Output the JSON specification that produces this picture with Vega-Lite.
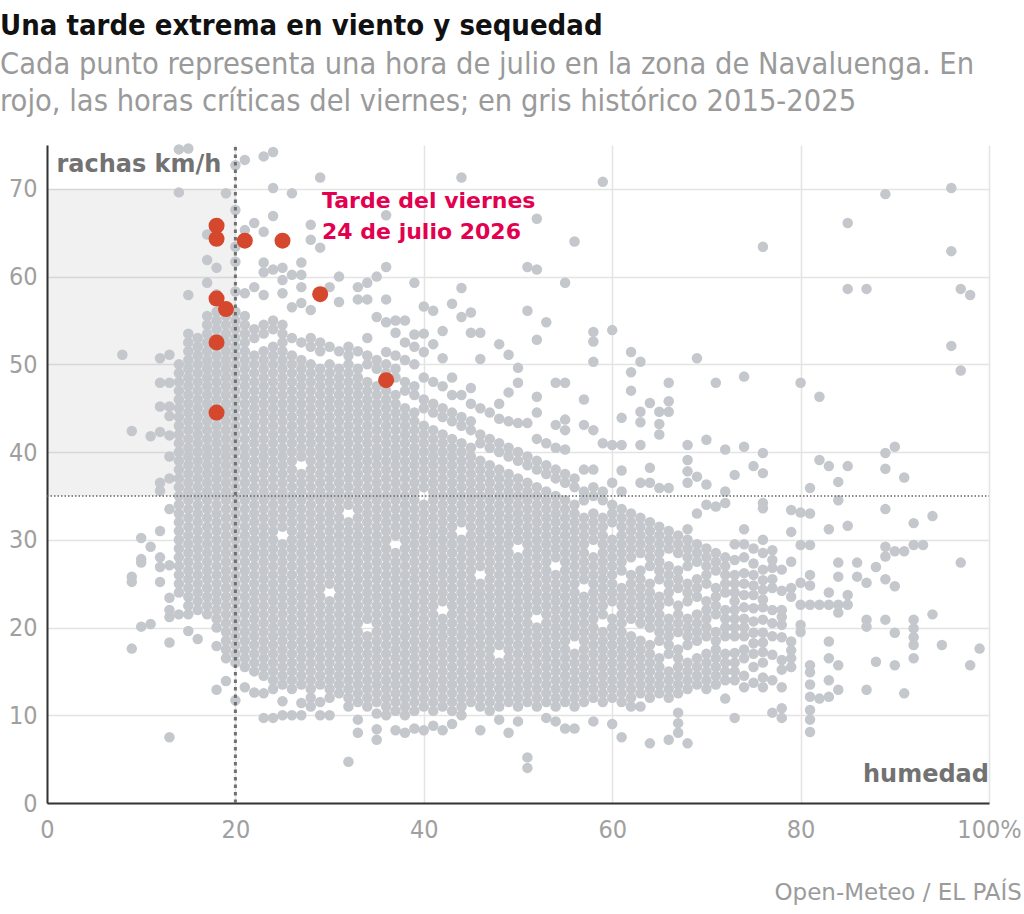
{
  "$schema": "https://vega.github.io/schema/vega-lite/v6.json",
  "width": 942,
  "height": 658,
  "autosize": {"type": "none"},
  "padding": {"left": 47, "top": 145, "right": 35, "bottom": 111},
  "background": "white",
  "config": {
    "view": {"stroke": null},
    "axis": {
      "grid": true, "gridColor": "#e4e4e4", "gridWidth": 1.5,
      "domainColor": "#333333", "domainWidth": 2,
      "ticks": false, "labelFlush": false,
      "labelFont": "DejaVu Sans Condensed", "labelFontSize": 25, "labelColor": "#a0a0a0"
    },
    "axisX": {"labelPadding": 14},
    "axisY": {"labelPadding": 10}
  },
  "title": {
    "text": "Una tarde extrema en viento y sequedad",
    "subtitle": ["Cada punto representa una hora de julio en la zona de Navaluenga. En", "rojo, las horas críticas del viernes; en gris histórico 2015-2025"],
    "anchor": "start",
    "frame": "group",
    "dx": -47,
    "offset": 26,
    "font": "DejaVu Sans Condensed",
    "fontSize": 29,
    "fontWeight": "bold",
    "color": "#111111",
    "subtitleFont": "DejaVu Sans Condensed",
    "subtitleFontSize": 30.5,
    "subtitleColor": "#9a9a9a",
    "subtitleLineHeight": 37,
    "subtitlePadding": 9
  },
  "datasets": {
    "historico": [
      {"h":8,"w":51.1},
      {"h":9,"w":42.4},{"h":9,"w":25.8},{"h":9,"w":25.2},{"h":9,"w":17.6},
      {"h":10,"w":30.2},{"h":10,"w":27.8},{"h":10,"w":27.4},{"h":10,"w":20.1},
      {"h":11,"w":41.8},{"h":11,"w":29.2},{"h":11,"w":20.4},
      {"h":12,"w":50.7},{"h":12,"w":47.9},{"h":12,"w":45.2},{"h":12,"w":42.3},{"h":12,"w":36.5},{"h":12,"w":35.6},{"h":12,"w":31},{"h":12,"w":28},{"h":12,"w":26.9},{"h":12,"w":25.2},
      {"h":13,"w":51.1},{"h":13,"w":47.9},{"h":13,"w":45.2},{"h":13,"w":44.1},{"h":13,"w":41.9},{"h":13,"w":39.5},{"h":13,"w":37},{"h":13,"w":33.5},{"h":13,"w":27.1},{"h":13,"w":23.4},{"h":13,"w":22},{"h":13,"w":21.2},{"h":13,"w":18.3},{"h":13,"w":7.5},
      {"h":14,"w":21.5},{"h":14,"w":24},{"h":14,"w":25},{"h":14,"w":26},{"h":14,"w":27},{"h":14,"w":28},{"h":14,"w":29},{"h":14,"w":30},{"h":14,"w":31},{"h":14,"w":32},{"h":14,"w":33},{"h":14,"w":34},{"h":14,"w":35},{"h":14,"w":36},{"h":14,"w":37},{"h":14,"w":38},{"h":14,"w":39},{"h":14,"w":40},{"h":14,"w":41},{"h":14,"w":42},{"h":14,"w":43},{"h":14,"w":44},{"h":14,"w":45},{"h":14,"w":46},{"h":14,"w":47},{"h":14,"w":48},{"h":14,"w":49},{"h":14,"w":50},{"h":14,"w":69.6},{"h":14,"w":74.5},
      {"h":15,"w":19.6},{"h":15,"w":21.5},{"h":15,"w":22.5},{"h":15,"w":23.5},{"h":15,"w":24.5},{"h":15,"w":25.5},{"h":15,"w":26.5},{"h":15,"w":27.5},{"h":15,"w":28.5},{"h":15,"w":29.5},{"h":15,"w":30.5},{"h":15,"w":31.5},{"h":15,"w":32.5},{"h":15,"w":33.5},{"h":15,"w":34.5},{"h":15,"w":35.5},{"h":15,"w":36.5},{"h":15,"w":37.5},{"h":15,"w":38.5},{"h":15,"w":39.5},{"h":15,"w":40.5},{"h":15,"w":41.5},{"h":15,"w":42.5},{"h":15,"w":43.5},{"h":15,"w":44.5},{"h":15,"w":45.5},{"h":15,"w":46.5},{"h":15,"w":47.5},{"h":15,"w":48.5},{"h":15,"w":49.5},{"h":15,"w":50.5},{"h":15,"w":51.5},{"h":15,"w":52.5},{"h":15,"w":53.5},{"h":15,"w":57.9},{"h":15,"w":74.6},
      {"h":16,"w":18.7},{"h":16,"w":22},{"h":16,"w":23},{"h":16,"w":24},{"h":16,"w":25},{"h":16,"w":26},{"h":16,"w":27},{"h":16,"w":28},{"h":16,"w":29},{"h":16,"w":30},{"h":16,"w":31},{"h":16,"w":32},{"h":16,"w":33},{"h":16,"w":34},{"h":16,"w":35},{"h":16,"w":36},{"h":16,"w":37},{"h":16,"w":38},{"h":16,"w":39},{"h":16,"w":40},{"h":16,"w":41},{"h":16,"w":42},{"h":16,"w":43},{"h":16,"w":44},{"h":16,"w":45},{"h":16,"w":46},{"h":16,"w":47},{"h":16,"w":48},{"h":16,"w":49},{"h":16,"w":50},{"h":16,"w":51},{"h":16,"w":52},{"h":16,"w":53},
      {"h":17,"w":21.5},{"h":17,"w":22.5},{"h":17,"w":23.5},{"h":17,"w":24.5},{"h":17,"w":25.5},{"h":17,"w":26.5},{"h":17,"w":27.5},{"h":17,"w":28.5},{"h":17,"w":29.5},{"h":17,"w":30.5},{"h":17,"w":31.5},{"h":17,"w":32.5},{"h":17,"w":33.5},{"h":17,"w":34.5},{"h":17,"w":35.5},{"h":17,"w":36.5},{"h":17,"w":37.5},{"h":17,"w":38.5},{"h":17,"w":39.5},{"h":17,"w":40.5},{"h":17,"w":41.5},{"h":17,"w":42.5},{"h":17,"w":43.5},{"h":17,"w":44.5},{"h":17,"w":45.5},{"h":17,"w":46.5},{"h":17,"w":47.5},{"h":17,"w":48.5},{"h":17,"w":49.5},{"h":17,"w":50.5},{"h":17,"w":51.5},{"h":17,"w":52.5},{"h":17,"w":53.5},{"h":17,"w":54.5},{"h":17,"w":55.5},{"h":17,"w":59.3},{"h":17,"w":61.9},{"h":17,"w":64.8},
      {"h":18,"w":12.9},{"h":18,"w":17.9},{"h":18,"w":20},{"h":18,"w":21},{"h":18,"w":22},{"h":18,"w":23},{"h":18,"w":24},{"h":18,"w":25},{"h":18,"w":26},{"h":18,"w":27},{"h":18,"w":28},{"h":18,"w":29},{"h":18,"w":30},{"h":18,"w":31},{"h":18,"w":32},{"h":18,"w":33},{"h":18,"w":34},{"h":18,"w":35},{"h":18,"w":36},{"h":18,"w":37},{"h":18,"w":38},{"h":18,"w":39},{"h":18,"w":40},{"h":18,"w":41},{"h":18,"w":42},{"h":18,"w":43},{"h":18,"w":44},{"h":18,"w":45},{"h":18,"w":46},{"h":18,"w":47},{"h":18,"w":48},{"h":18,"w":49},{"h":18,"w":50},{"h":18,"w":51},{"h":18,"w":52},{"h":18,"w":53},{"h":18,"w":54},{"h":18,"w":55},{"h":18,"w":56},{"h":18,"w":58},{"h":18,"w":61},
      {"h":19,"w":13.9},{"h":19,"w":16.5},{"h":19,"w":17.5},{"h":19,"w":18.5},{"h":19,"w":19.5},{"h":19,"w":20.5},{"h":19,"w":21.5},{"h":19,"w":22.5},{"h":19,"w":23.5},{"h":19,"w":24.5},{"h":19,"w":25.5},{"h":19,"w":26.5},{"h":19,"w":27.5},{"h":19,"w":28.5},{"h":19,"w":29.5},{"h":19,"w":30.5},{"h":19,"w":31.5},{"h":19,"w":32.5},{"h":19,"w":33.5},{"h":19,"w":34.5},{"h":19,"w":35.5},{"h":19,"w":36.5},{"h":19,"w":37.5},{"h":19,"w":38.5},{"h":19,"w":39.5},{"h":19,"w":40.5},{"h":19,"w":41.5},{"h":19,"w":42.5},{"h":19,"w":43.5},{"h":19,"w":44.5},{"h":19,"w":45.5},{"h":19,"w":46.5},{"h":19,"w":47.5},{"h":19,"w":48.5},{"h":19,"w":49.5},{"h":19,"w":50.5},{"h":19,"w":51.5},{"h":19,"w":52.5},{"h":19,"w":53.5},{"h":19,"w":54.5},{"h":19,"w":55.5},{"h":19,"w":69.5},
      {"h":20,"w":11.7},{"h":20,"w":16},{"h":20,"w":17},{"h":20,"w":18},{"h":20,"w":19},{"h":20,"w":20},{"h":20,"w":21},{"h":20,"w":22},{"h":20,"w":23},{"h":20,"w":24},{"h":20,"w":25},{"h":20,"w":26},{"h":20,"w":27},{"h":20,"w":28},{"h":20,"w":29},{"h":20,"w":30},{"h":20,"w":31},{"h":20,"w":32},{"h":20,"w":33},{"h":20,"w":34},{"h":20,"w":35},{"h":20,"w":36},{"h":20,"w":37},{"h":20,"w":38},{"h":20,"w":39},{"h":20,"w":40},{"h":20,"w":41},{"h":20,"w":42},{"h":20,"w":43},{"h":20,"w":44},{"h":20,"w":45},{"h":20,"w":46},{"h":20,"w":47},{"h":20,"w":48},{"h":20,"w":49},{"h":20,"w":50},{"h":20,"w":51},{"h":20,"w":52},{"h":20,"w":53},{"h":20,"w":54},{"h":20,"w":55},{"h":20,"w":56},{"h":20,"w":58.3},{"h":20,"w":61.7},{"h":20,"w":63.4},{"h":20,"w":67.6},{"h":20,"w":72.7},
      {"h":21,"w":13.2},{"h":21,"w":15.5},{"h":21,"w":16.5},{"h":21,"w":17.5},{"h":21,"w":18.5},{"h":21,"w":19.5},{"h":21,"w":20.5},{"h":21,"w":21.5},{"h":21,"w":22.5},{"h":21,"w":23.5},{"h":21,"w":24.5},{"h":21,"w":25.5},{"h":21,"w":26.5},{"h":21,"w":27.5},{"h":21,"w":28.5},{"h":21,"w":29.5},{"h":21,"w":30.5},{"h":21,"w":31.5},{"h":21,"w":32.5},{"h":21,"w":33.5},{"h":21,"w":34.5},{"h":21,"w":35.5},{"h":21,"w":36.5},{"h":21,"w":37.5},{"h":21,"w":38.5},{"h":21,"w":39.5},{"h":21,"w":40.5},{"h":21,"w":41.5},{"h":21,"w":42.5},{"h":21,"w":43.5},{"h":21,"w":44.5},{"h":21,"w":45.5},{"h":21,"w":46.5},{"h":21,"w":47.5},{"h":21,"w":48.5},{"h":21,"w":49.5},{"h":21,"w":50.5},{"h":21,"w":51.5},{"h":21,"w":52.5},{"h":21,"w":53.5},{"h":21,"w":54.5},{"h":21,"w":55.5},{"h":21,"w":58.1},{"h":21,"w":65.3},{"h":21,"w":73.3},
      {"h":22,"w":12.6},{"h":22,"w":15},{"h":22,"w":16},{"h":22,"w":17},{"h":22,"w":18},{"h":22,"w":19},{"h":22,"w":20},{"h":22,"w":21},{"h":22,"w":22},{"h":22,"w":23},{"h":22,"w":24},{"h":22,"w":25},{"h":22,"w":26},{"h":22,"w":27},{"h":22,"w":28},{"h":22,"w":29},{"h":22,"w":30},{"h":22,"w":31},{"h":22,"w":32},{"h":22,"w":33},{"h":22,"w":34},{"h":22,"w":35},{"h":22,"w":36},{"h":22,"w":37},{"h":22,"w":38},{"h":22,"w":39},{"h":22,"w":40},{"h":22,"w":41},{"h":22,"w":42},{"h":22,"w":43},{"h":22,"w":44},{"h":22,"w":45},{"h":22,"w":46},{"h":22,"w":47},{"h":22,"w":48},{"h":22,"w":49},{"h":22,"w":50},{"h":22,"w":51},{"h":22,"w":53},{"h":22,"w":54},{"h":22,"w":58.8},{"h":22,"w":66.1},
      {"h":23,"w":9.7},{"h":23,"w":12.5},{"h":23,"w":14.5},{"h":23,"w":15.5},{"h":23,"w":16.5},{"h":23,"w":17.5},{"h":23,"w":18.5},{"h":23,"w":19.5},{"h":23,"w":20.5},{"h":23,"w":21.5},{"h":23,"w":22.5},{"h":23,"w":23.5},{"h":23,"w":24.5},{"h":23,"w":25.5},{"h":23,"w":26.5},{"h":23,"w":27.5},{"h":23,"w":28.5},{"h":23,"w":29.5},{"h":23,"w":30.5},{"h":23,"w":31.5},{"h":23,"w":32.5},{"h":23,"w":33.5},{"h":23,"w":34.5},{"h":23,"w":35.5},{"h":23,"w":36.5},{"h":23,"w":37.5},{"h":23,"w":38.5},{"h":23,"w":39.5},{"h":23,"w":40.5},{"h":23,"w":41.5},{"h":23,"w":42.5},{"h":23,"w":43.5},{"h":23,"w":44.5},{"h":23,"w":45.5},{"h":23,"w":46.5},{"h":23,"w":47.5},{"h":23,"w":48.5},{"h":23,"w":49.5},{"h":23,"w":50.5},{"h":23,"w":51.5},{"h":23,"w":53.5},{"h":23,"w":54.5},{"h":23,"w":57.9},{"h":23,"w":60.5},{"h":23,"w":61.6},{"h":23,"w":65.1},{"h":23,"w":73.7},
      {"h":24,"w":9.7},{"h":24,"w":13},{"h":24,"w":14},{"h":24,"w":15},{"h":24,"w":16},{"h":24,"w":17},{"h":24,"w":18},{"h":24,"w":19},{"h":24,"w":20},{"h":24,"w":21},{"h":24,"w":22},{"h":24,"w":23},{"h":24,"w":24},{"h":24,"w":25},{"h":24,"w":26},{"h":24,"w":27},{"h":24,"w":28},{"h":24,"w":29},{"h":24,"w":30},{"h":24,"w":31},{"h":24,"w":32},{"h":24,"w":33},{"h":24,"w":34},{"h":24,"w":35},{"h":24,"w":36},{"h":24,"w":37},{"h":24,"w":38},{"h":24,"w":39},{"h":24,"w":40},{"h":24,"w":41},{"h":24,"w":42},{"h":24,"w":43},{"h":24,"w":44},{"h":24,"w":45},{"h":24,"w":46},{"h":24,"w":47},{"h":24,"w":48},{"h":24,"w":49},{"h":24,"w":50},{"h":24,"w":51},{"h":24,"w":52},{"h":24,"w":54},{"h":24,"w":55},{"h":24,"w":60.8},{"h":24,"w":66.9},{"h":24,"w":70.1},{"h":24,"w":74.2},
      {"h":25,"w":10},{"h":25,"w":11.6},{"h":25,"w":13.5},{"h":25,"w":14.5},{"h":25,"w":15.5},{"h":25,"w":16.5},{"h":25,"w":17.5},{"h":25,"w":18.5},{"h":25,"w":19.5},{"h":25,"w":20.5},{"h":25,"w":21.5},{"h":25,"w":22.5},{"h":25,"w":23.5},{"h":25,"w":24.5},{"h":25,"w":25.5},{"h":25,"w":26.5},{"h":25,"w":27.5},{"h":25,"w":28.5},{"h":25,"w":29.5},{"h":25,"w":31.5},{"h":25,"w":32.5},{"h":25,"w":33.5},{"h":25,"w":34.5},{"h":25,"w":35.5},{"h":25,"w":36.5},{"h":25,"w":37.5},{"h":25,"w":38.5},{"h":25,"w":39.5},{"h":25,"w":40.5},{"h":25,"w":41.5},{"h":25,"w":42.5},{"h":25,"w":43.5},{"h":25,"w":44.5},{"h":25,"w":45.5},{"h":25,"w":46.5},{"h":25,"w":47.5},{"h":25,"w":48.5},{"h":25,"w":49.5},{"h":25,"w":50.5},{"h":25,"w":51.5},{"h":25,"w":52.5},{"h":25,"w":53.5},{"h":25,"w":54.5},{"h":25,"w":58.1},{"h":25,"w":59.6},{"h":25,"w":61},
      {"h":26,"w":10},{"h":26,"w":13},{"h":26,"w":14},{"h":26,"w":15},{"h":26,"w":16},{"h":26,"w":17},{"h":26,"w":18},{"h":26,"w":19},{"h":26,"w":20},{"h":26,"w":21},{"h":26,"w":22},{"h":26,"w":23},{"h":26,"w":24},{"h":26,"w":25},{"h":26,"w":26},{"h":26,"w":27},{"h":26,"w":28},{"h":26,"w":29},{"h":26,"w":30},{"h":26,"w":31},{"h":26,"w":32},{"h":26,"w":33},{"h":26,"w":34},{"h":26,"w":35},{"h":26,"w":36},{"h":26,"w":37},{"h":26,"w":38},{"h":26,"w":39},{"h":26,"w":40},{"h":26,"w":41},{"h":26,"w":42},{"h":26,"w":43},{"h":26,"w":44},{"h":26,"w":45},{"h":26,"w":46},{"h":26,"w":47},{"h":26,"w":48},{"h":26,"w":49},{"h":26,"w":50},{"h":26,"w":51},{"h":26,"w":53},{"h":26,"w":56.5},{"h":26,"w":60.2},{"h":26,"w":69.5},
      {"h":27,"w":10},{"h":27,"w":11.4},{"h":27,"w":13.5},{"h":27,"w":14.5},{"h":27,"w":15.5},{"h":27,"w":16.5},{"h":27,"w":17.5},{"h":27,"w":18.5},{"h":27,"w":19.5},{"h":27,"w":20.5},{"h":27,"w":21.5},{"h":27,"w":22.5},{"h":27,"w":23.5},{"h":27,"w":24.5},{"h":27,"w":25.5},{"h":27,"w":26.5},{"h":27,"w":27.5},{"h":27,"w":28.5},{"h":27,"w":29.5},{"h":27,"w":30.5},{"h":27,"w":31.5},{"h":27,"w":32.5},{"h":27,"w":33.5},{"h":27,"w":34.5},{"h":27,"w":35.5},{"h":27,"w":36.5},{"h":27,"w":37.5},{"h":27,"w":39.5},{"h":27,"w":40.5},{"h":27,"w":41.5},{"h":27,"w":42.5},{"h":27,"w":43.5},{"h":27,"w":44.5},{"h":27,"w":45.5},{"h":27,"w":46.5},{"h":27,"w":47.5},{"h":27,"w":48.5},{"h":27,"w":49.5},{"h":27,"w":50.5},{"h":27,"w":52.5},{"h":27,"w":57},{"h":27,"w":58.8},{"h":27,"w":60.2},{"h":27,"w":61.6},
      {"h":28,"w":11},{"h":28,"w":12},{"h":28,"w":13},{"h":28,"w":14},{"h":28,"w":15},{"h":28,"w":16},{"h":28,"w":17},{"h":28,"w":18},{"h":28,"w":19},{"h":28,"w":20},{"h":28,"w":21},{"h":28,"w":22},{"h":28,"w":23},{"h":28,"w":24},{"h":28,"w":25},{"h":28,"w":26},{"h":28,"w":27},{"h":28,"w":28},{"h":28,"w":29},{"h":28,"w":30},{"h":28,"w":31},{"h":28,"w":32},{"h":28,"w":33},{"h":28,"w":34},{"h":28,"w":35},{"h":28,"w":36},{"h":28,"w":37},{"h":28,"w":38},{"h":28,"w":39},{"h":28,"w":40},{"h":28,"w":41},{"h":28,"w":42},{"h":28,"w":43},{"h":28,"w":44},{"h":28,"w":45},{"h":28,"w":46},{"h":28,"w":47},{"h":28,"w":48},{"h":28,"w":49},{"h":28,"w":50},{"h":28,"w":52},{"h":28,"w":53},{"h":28,"w":56.2},{"h":28,"w":64.2},{"h":28,"w":65.9},
      {"h":29,"w":10},{"h":29,"w":11.5},{"h":29,"w":13.5},{"h":29,"w":14.5},{"h":29,"w":15.5},{"h":29,"w":16.5},{"h":29,"w":17.5},{"h":29,"w":18.5},{"h":29,"w":19.5},{"h":29,"w":20.5},{"h":29,"w":21.5},{"h":29,"w":22.5},{"h":29,"w":23.5},{"h":29,"w":24.5},{"h":29,"w":25.5},{"h":29,"w":26.5},{"h":29,"w":27.5},{"h":29,"w":28.5},{"h":29,"w":29.5},{"h":29,"w":30.5},{"h":29,"w":31.5},{"h":29,"w":32.5},{"h":29,"w":33.5},{"h":29,"w":34.5},{"h":29,"w":35.5},{"h":29,"w":36.5},{"h":29,"w":37.5},{"h":29,"w":38.5},{"h":29,"w":39.5},{"h":29,"w":40.5},{"h":29,"w":41.5},{"h":29,"w":42.5},{"h":29,"w":43.5},{"h":29,"w":44.5},{"h":29,"w":45.5},{"h":29,"w":46.5},{"h":29,"w":47.5},{"h":29,"w":48.5},{"h":29,"w":49.5},{"h":29,"w":51.5},{"h":29,"w":52.5},{"h":29,"w":63.3},{"h":29,"w":71.3},
      {"h":30,"w":10},{"h":30,"w":12},{"h":30,"w":13},{"h":30,"w":14},{"h":30,"w":15},{"h":30,"w":16},{"h":30,"w":17},{"h":30,"w":18},{"h":30,"w":19},{"h":30,"w":20},{"h":30,"w":21},{"h":30,"w":22},{"h":30,"w":23},{"h":30,"w":25},{"h":30,"w":26},{"h":30,"w":27},{"h":30,"w":28},{"h":30,"w":29},{"h":30,"w":30},{"h":30,"w":31},{"h":30,"w":32},{"h":30,"w":33},{"h":30,"w":34},{"h":30,"w":35},{"h":30,"w":36},{"h":30,"w":37},{"h":30,"w":38},{"h":30,"w":39},{"h":30,"w":40},{"h":30,"w":41},{"h":30,"w":42},{"h":30,"w":43},{"h":30,"w":44},{"h":30,"w":45},{"h":30,"w":46},{"h":30,"w":47},{"h":30,"w":48},{"h":30,"w":49},{"h":30,"w":50},{"h":30,"w":52},{"h":30,"w":58.8},
      {"h":31,"w":12.5},{"h":31,"w":13.5},{"h":31,"w":14.5},{"h":31,"w":15.5},{"h":31,"w":16.5},{"h":31,"w":17.5},{"h":31,"w":18.5},{"h":31,"w":19.5},{"h":31,"w":20.5},{"h":31,"w":21.5},{"h":31,"w":22.5},{"h":31,"w":23.5},{"h":31,"w":24.5},{"h":31,"w":25.5},{"h":31,"w":26.5},{"h":31,"w":27.5},{"h":31,"w":28.5},{"h":31,"w":29.5},{"h":31,"w":30.5},{"h":31,"w":31.5},{"h":31,"w":32.5},{"h":31,"w":33.5},{"h":31,"w":34.5},{"h":31,"w":35.5},{"h":31,"w":36.5},{"h":31,"w":37.5},{"h":31,"w":38.5},{"h":31,"w":39.5},{"h":31,"w":40.5},{"h":31,"w":41.5},{"h":31,"w":42.5},{"h":31,"w":43.5},{"h":31,"w":44.5},{"h":31,"w":45.5},{"h":31,"w":46.5},{"h":31,"w":47.5},{"h":31,"w":48.5},{"h":31,"w":49.5},{"h":31,"w":51.5},{"h":31,"w":57.1},{"h":31,"w":60},
      {"h":32,"w":4.7},{"h":32,"w":11},{"h":32,"w":12},{"h":32,"w":13},{"h":32,"w":14},{"h":32,"w":15},{"h":32,"w":16},{"h":32,"w":17},{"h":32,"w":18},{"h":32,"w":19},{"h":32,"w":20},{"h":32,"w":21},{"h":32,"w":22},{"h":32,"w":23},{"h":32,"w":24},{"h":32,"w":25},{"h":32,"w":26},{"h":32,"w":27},{"h":32,"w":28},{"h":32,"w":29},{"h":32,"w":30},{"h":32,"w":31},{"h":32,"w":32},{"h":32,"w":34},{"h":32,"w":35},{"h":32,"w":36},{"h":32,"w":37},{"h":32,"w":38},{"h":32,"w":39},{"h":32,"w":40},{"h":32,"w":41},{"h":32,"w":42},{"h":32,"w":43},{"h":32,"w":44},{"h":32,"w":45},{"h":32,"w":46},{"h":32,"w":47},{"h":32,"w":48},{"h":32,"w":49},{"h":32,"w":50},{"h":32,"w":51},{"h":32,"w":52},
      {"h":33,"w":8},{"h":33,"w":9.5},{"h":33,"w":11.5},{"h":33,"w":12.5},{"h":33,"w":13.5},{"h":33,"w":14.5},{"h":33,"w":15.5},{"h":33,"w":16.5},{"h":33,"w":17.5},{"h":33,"w":18.5},{"h":33,"w":19.5},{"h":33,"w":20.5},{"h":33,"w":21.5},{"h":33,"w":22.5},{"h":33,"w":23.5},{"h":33,"w":24.5},{"h":33,"w":25.5},{"h":33,"w":26.5},{"h":33,"w":27.5},{"h":33,"w":28.5},{"h":33,"w":29.5},{"h":33,"w":30.5},{"h":33,"w":31.5},{"h":33,"w":32.5},{"h":33,"w":33.5},{"h":33,"w":34.5},{"h":33,"w":35.5},{"h":33,"w":36.5},{"h":33,"w":37.5},{"h":33,"w":38.5},{"h":33,"w":39.5},{"h":33,"w":40.5},{"h":33,"w":41.5},{"h":33,"w":42.5},{"h":33,"w":43.5},{"h":33,"w":44.5},{"h":33,"w":45.5},{"h":33,"w":46.5},{"h":33,"w":47.5},{"h":33,"w":48.5},{"h":33,"w":49.5},{"h":33,"w":51.5},{"h":33,"w":57.4},{"h":33,"w":58.8},
      {"h":34,"w":11},{"h":34,"w":12},{"h":34,"w":13},{"h":34,"w":14},{"h":34,"w":15},{"h":34,"w":16},{"h":34,"w":17},{"h":34,"w":18},{"h":34,"w":19},{"h":34,"w":21},{"h":34,"w":22},{"h":34,"w":23},{"h":34,"w":24},{"h":34,"w":25},{"h":34,"w":26},{"h":34,"w":27},{"h":34,"w":28},{"h":34,"w":29},{"h":34,"w":30},{"h":34,"w":31},{"h":34,"w":32},{"h":34,"w":33},{"h":34,"w":34},{"h":34,"w":35},{"h":34,"w":36},{"h":34,"w":37},{"h":34,"w":38},{"h":34,"w":39},{"h":34,"w":40},{"h":34,"w":41},{"h":34,"w":42},{"h":34,"w":43},{"h":34,"w":44},{"h":34,"w":45},{"h":34,"w":46},{"h":34,"w":47},{"h":34,"w":48},{"h":34,"w":50},{"h":34,"w":51},{"h":34,"w":53},{"h":34,"w":57.4},{"h":34,"w":59.3},
      {"h":35,"w":7.2},{"h":35,"w":8.4},{"h":35,"w":10.2},{"h":35,"w":11.5},{"h":35,"w":12.5},{"h":35,"w":13.5},{"h":35,"w":14.5},{"h":35,"w":15.5},{"h":35,"w":16.5},{"h":35,"w":17.5},{"h":35,"w":18.5},{"h":35,"w":19.5},{"h":35,"w":20.5},{"h":35,"w":21.5},{"h":35,"w":22.5},{"h":35,"w":23.5},{"h":35,"w":24.5},{"h":35,"w":25.5},{"h":35,"w":26.5},{"h":35,"w":27.5},{"h":35,"w":28.5},{"h":35,"w":29.5},{"h":35,"w":30.5},{"h":35,"w":31.5},{"h":35,"w":32.5},{"h":35,"w":33.5},{"h":35,"w":34.5},{"h":35,"w":35.5},{"h":35,"w":36.5},{"h":35,"w":37.5},{"h":35,"w":38.5},{"h":35,"w":39.5},{"h":35,"w":40.5},{"h":35,"w":41.5},{"h":35,"w":42.5},{"h":35,"w":43.5},{"h":35,"w":44.5},{"h":35,"w":45.5},{"h":35,"w":46.5},{"h":35,"w":47.5},{"h":35,"w":49.5},{"h":35,"w":50.5},{"h":35,"w":55.4},{"h":35,"w":60},
      {"h":36,"w":10},{"h":36,"w":11},{"h":36,"w":12},{"h":36,"w":13},{"h":36,"w":14},{"h":36,"w":15},{"h":36,"w":16},{"h":36,"w":17},{"h":36,"w":18},{"h":36,"w":19},{"h":36,"w":20},{"h":36,"w":21},{"h":36,"w":22},{"h":36,"w":23},{"h":36,"w":24},{"h":36,"w":25},{"h":36,"w":26},{"h":36,"w":27},{"h":36,"w":28},{"h":36,"w":29},{"h":36,"w":30},{"h":36,"w":31},{"h":36,"w":32},{"h":36,"w":33},{"h":36,"w":34},{"h":36,"w":35},{"h":36,"w":36},{"h":36,"w":37},{"h":36,"w":38},{"h":36,"w":39},{"h":36,"w":40},{"h":36,"w":41},{"h":36,"w":42},{"h":36,"w":43},{"h":36,"w":44},{"h":36,"w":45},{"h":36,"w":46},{"h":36,"w":47},{"h":36,"w":49},{"h":36,"w":50},{"h":36,"w":51.4},{"h":36,"w":54.8},{"h":36,"w":57.4},{"h":36,"w":61.1},{"h":36,"w":67},
      {"h":37,"w":8.3},{"h":37,"w":10.5},{"h":37,"w":11.5},{"h":37,"w":12.5},{"h":37,"w":13.5},{"h":37,"w":14.5},{"h":37,"w":15.5},{"h":37,"w":16.5},{"h":37,"w":17.5},{"h":37,"w":18.5},{"h":37,"w":19.5},{"h":37,"w":20.5},{"h":37,"w":21.5},{"h":37,"w":22.5},{"h":37,"w":23.5},{"h":37,"w":24.5},{"h":37,"w":25.5},{"h":37,"w":26.5},{"h":37,"w":27.5},{"h":37,"w":28.5},{"h":37,"w":30.5},{"h":37,"w":31.5},{"h":37,"w":32.5},{"h":37,"w":33.5},{"h":37,"w":34.5},{"h":37,"w":35.5},{"h":37,"w":36.5},{"h":37,"w":37.5},{"h":37,"w":38.5},{"h":37,"w":39.5},{"h":37,"w":40.5},{"h":37,"w":41.5},{"h":37,"w":42.5},{"h":37,"w":43.5},{"h":37,"w":44.5},{"h":37,"w":45.5},{"h":37,"w":46.5},{"h":37,"w":48.5},{"h":37,"w":49.5},{"h":37,"w":51},{"h":37,"w":53.6},{"h":37,"w":55},
      {"h":38,"w":8},{"h":38,"w":10},{"h":38,"w":11},{"h":38,"w":12},{"h":38,"w":13},{"h":38,"w":14},{"h":38,"w":15},{"h":38,"w":16},{"h":38,"w":17},{"h":38,"w":18},{"h":38,"w":19},{"h":38,"w":20},{"h":38,"w":21},{"h":38,"w":22},{"h":38,"w":23},{"h":38,"w":24},{"h":38,"w":25},{"h":38,"w":26},{"h":38,"w":27},{"h":38,"w":28},{"h":38,"w":29},{"h":38,"w":30},{"h":38,"w":31},{"h":38,"w":32},{"h":38,"w":33},{"h":38,"w":34},{"h":38,"w":35},{"h":38,"w":36},{"h":38,"w":37},{"h":38,"w":38},{"h":38,"w":39},{"h":38,"w":40},{"h":38,"w":41},{"h":38,"w":42},{"h":38,"w":43},{"h":38,"w":44},{"h":38,"w":45},{"h":38,"w":47},{"h":38,"w":48},{"h":38,"w":50.5},{"h":38,"w":52.5},{"h":38,"w":55},
      {"h":39,"w":8.5},{"h":39,"w":10.5},{"h":39,"w":11.5},{"h":39,"w":12.5},{"h":39,"w":13.5},{"h":39,"w":14.5},{"h":39,"w":15.5},{"h":39,"w":16.5},{"h":39,"w":17.5},{"h":39,"w":18.5},{"h":39,"w":19.5},{"h":39,"w":20.5},{"h":39,"w":21.5},{"h":39,"w":22.5},{"h":39,"w":23.5},{"h":39,"w":24.5},{"h":39,"w":25.5},{"h":39,"w":26.5},{"h":39,"w":27.5},{"h":39,"w":28.5},{"h":39,"w":29.5},{"h":39,"w":30.5},{"h":39,"w":31.5},{"h":39,"w":32.5},{"h":39,"w":33.5},{"h":39,"w":34.5},{"h":39,"w":35.5},{"h":39,"w":36.5},{"h":39,"w":37.5},{"h":39,"w":38.5},{"h":39,"w":39.5},{"h":39,"w":40.5},{"h":39,"w":41.5},{"h":39,"w":42.5},{"h":39,"w":43.5},{"h":39,"w":44.5},{"h":39,"w":46.5},{"h":39,"w":47.5},{"h":39,"w":50},{"h":39,"w":52},{"h":39,"w":53.4},{"h":39,"w":59.3},
      {"h":40,"w":8.3},{"h":40,"w":11},{"h":40,"w":12},{"h":40,"w":13},{"h":40,"w":14},{"h":40,"w":15},{"h":40,"w":16},{"h":40,"w":17},{"h":40,"w":18},{"h":40,"w":19},{"h":40,"w":20},{"h":40,"w":21},{"h":40,"w":22},{"h":40,"w":23},{"h":40,"w":24},{"h":40,"w":25},{"h":40,"w":26},{"h":40,"w":27},{"h":40,"w":28},{"h":40,"w":29},{"h":40,"w":30},{"h":40,"w":31},{"h":40,"w":32},{"h":40,"w":33},{"h":40,"w":34},{"h":40,"w":36},{"h":40,"w":37},{"h":40,"w":38},{"h":40,"w":39},{"h":40,"w":40},{"h":40,"w":41},{"h":40,"w":42},{"h":40,"w":43},{"h":40,"w":45},{"h":40,"w":46},{"h":40,"w":48.5},{"h":40,"w":51.4},{"h":40,"w":53.5},{"h":40,"w":56.6},
      {"h":41,"w":8.8},{"h":41,"w":10.5},{"h":41,"w":11.5},{"h":41,"w":12.5},{"h":41,"w":13.5},{"h":41,"w":14.5},{"h":41,"w":15.5},{"h":41,"w":16.5},{"h":41,"w":17.5},{"h":41,"w":18.5},{"h":41,"w":19.5},{"h":41,"w":20.5},{"h":41,"w":21.5},{"h":41,"w":22.5},{"h":41,"w":23.5},{"h":41,"w":24.5},{"h":41,"w":25.5},{"h":41,"w":26.5},{"h":41,"w":27.5},{"h":41,"w":28.5},{"h":41,"w":29.5},{"h":41,"w":30.5},{"h":41,"w":31.5},{"h":41,"w":32.5},{"h":41,"w":33.5},{"h":41,"w":34.5},{"h":41,"w":35.5},{"h":41,"w":36.5},{"h":41,"w":37.5},{"h":41,"w":38.5},{"h":41,"w":39.5},{"h":41,"w":40.5},{"h":41,"w":41.5},{"h":41,"w":42.5},{"h":41,"w":44.5},{"h":41,"w":45.5},{"h":41,"w":48},{"h":41,"w":52.3},{"h":41,"w":56.1},
      {"h":42,"w":8.3},{"h":42,"w":11},{"h":42,"w":12},{"h":42,"w":13},{"h":42,"w":14},{"h":42,"w":15},{"h":42,"w":16},{"h":42,"w":17},{"h":42,"w":18},{"h":42,"w":19},{"h":42,"w":20},{"h":42,"w":21},{"h":42,"w":23},{"h":42,"w":24},{"h":42,"w":25},{"h":42,"w":26},{"h":42,"w":27},{"h":42,"w":28},{"h":42,"w":29},{"h":42,"w":30},{"h":42,"w":31},{"h":42,"w":32},{"h":42,"w":33},{"h":42,"w":34},{"h":42,"w":35},{"h":42,"w":36},{"h":42,"w":37},{"h":42,"w":38},{"h":42,"w":39},{"h":42,"w":40},{"h":42,"w":41},{"h":42,"w":42},{"h":42,"w":44},{"h":42,"w":45},{"h":42,"w":47.5},{"h":42,"w":50.7},{"h":42,"w":53.8},
      {"h":43,"w":9},{"h":43,"w":10.5},{"h":43,"w":11.5},{"h":43,"w":12.5},{"h":43,"w":13.5},{"h":43,"w":14.5},{"h":43,"w":15.5},{"h":43,"w":16.5},{"h":43,"w":17.5},{"h":43,"w":18.5},{"h":43,"w":19.5},{"h":43,"w":20.5},{"h":43,"w":21.5},{"h":43,"w":22.5},{"h":43,"w":23.5},{"h":43,"w":24.5},{"h":43,"w":25.5},{"h":43,"w":26.5},{"h":43,"w":27.5},{"h":43,"w":28.5},{"h":43,"w":29.5},{"h":43,"w":30.5},{"h":43,"w":31.5},{"h":43,"w":32.5},{"h":43,"w":33.5},{"h":43,"w":34.5},{"h":43,"w":35.5},{"h":43,"w":36.5},{"h":43,"w":37.5},{"h":43,"w":38.5},{"h":43,"w":39.5},{"h":43,"w":40.5},{"h":43,"w":41.5},{"h":43,"w":43.5},{"h":43,"w":44.5},{"h":43,"w":46.5},{"h":43,"w":48.5},{"h":43,"w":56.9},
      {"h":44,"w":10},{"h":44,"w":11},{"h":44,"w":12},{"h":44,"w":13},{"h":44,"w":14},{"h":44,"w":15},{"h":44,"w":16},{"h":44,"w":17},{"h":44,"w":18},{"h":44,"w":19},{"h":44,"w":20},{"h":44,"w":21},{"h":44,"w":22},{"h":44,"w":23},{"h":44,"w":24},{"h":44,"w":25},{"h":44,"w":26},{"h":44,"w":27},{"h":44,"w":28},{"h":44,"w":29},{"h":44,"w":30},{"h":44,"w":32},{"h":44,"w":33},{"h":44,"w":34},{"h":44,"w":35},{"h":44,"w":36},{"h":44,"w":37},{"h":44,"w":38},{"h":44,"w":39},{"h":44,"w":40},{"h":44,"w":41},{"h":44,"w":43},{"h":44,"w":44},{"h":44,"w":46.5},{"h":44,"w":55.4},{"h":44,"w":58.7},{"h":44,"w":71.3},
      {"h":45,"w":11.5},{"h":45,"w":12.5},{"h":45,"w":13.5},{"h":45,"w":14.5},{"h":45,"w":15.5},{"h":45,"w":16.5},{"h":45,"w":17.5},{"h":45,"w":18.5},{"h":45,"w":19.5},{"h":45,"w":20.5},{"h":45,"w":21.5},{"h":45,"w":22.5},{"h":45,"w":23.5},{"h":45,"w":24.5},{"h":45,"w":25.5},{"h":45,"w":26.5},{"h":45,"w":27.5},{"h":45,"w":28.5},{"h":45,"w":29.5},{"h":45,"w":30.5},{"h":45,"w":31.5},{"h":45,"w":32.5},{"h":45,"w":33.5},{"h":45,"w":34.5},{"h":45,"w":35.5},{"h":45,"w":36.5},{"h":45,"w":37.5},{"h":45,"w":38.5},{"h":45,"w":39.5},{"h":45,"w":40.5},{"h":45,"w":42.5},{"h":45,"w":43.5},{"h":45,"w":45.5},{"h":45,"w":47.3},{"h":45,"w":53.6},{"h":45,"w":55.9},
      {"h":46,"w":8.3},{"h":46,"w":11},{"h":46,"w":12},{"h":46,"w":13},{"h":46,"w":14},{"h":46,"w":15},{"h":46,"w":16},{"h":46,"w":17},{"h":46,"w":18},{"h":46,"w":19},{"h":46,"w":20},{"h":46,"w":21},{"h":46,"w":22},{"h":46,"w":23},{"h":46,"w":24},{"h":46,"w":25},{"h":46,"w":27},{"h":46,"w":28},{"h":46,"w":29},{"h":46,"w":30},{"h":46,"w":31},{"h":46,"w":32},{"h":46,"w":33},{"h":46,"w":34},{"h":46,"w":35},{"h":46,"w":36},{"h":46,"w":37},{"h":46,"w":38},{"h":46,"w":39},{"h":46,"w":41},{"h":46,"w":42},{"h":46,"w":45},{"h":46,"w":50.6},{"h":46,"w":53.6},
      {"h":47,"w":10.5},{"h":47,"w":11.5},{"h":47,"w":12.5},{"h":47,"w":13.5},{"h":47,"w":14.5},{"h":47,"w":15.5},{"h":47,"w":16.5},{"h":47,"w":17.5},{"h":47,"w":18.5},{"h":47,"w":19.5},{"h":47,"w":20.5},{"h":47,"w":21.5},{"h":47,"w":22.5},{"h":47,"w":23.5},{"h":47,"w":24.5},{"h":47,"w":25.5},{"h":47,"w":26.5},{"h":47,"w":27.5},{"h":47,"w":28.5},{"h":47,"w":29.5},{"h":47,"w":30.5},{"h":47,"w":31.5},{"h":47,"w":32.5},{"h":47,"w":33.5},{"h":47,"w":34.5},{"h":47,"w":35.5},{"h":47,"w":36.5},{"h":47,"w":37.5},{"h":47,"w":38.5},{"h":47,"w":40.5},{"h":47,"w":41.5},{"h":47,"w":44.5},
      {"h":48,"w":9.5},{"h":48,"w":11},{"h":48,"w":12},{"h":48,"w":13},{"h":48,"w":14},{"h":48,"w":15},{"h":48,"w":16},{"h":48,"w":18},{"h":48,"w":19},{"h":48,"w":20},{"h":48,"w":21},{"h":48,"w":22},{"h":48,"w":23},{"h":48,"w":24},{"h":48,"w":25},{"h":48,"w":26},{"h":48,"w":27},{"h":48,"w":28},{"h":48,"w":29},{"h":48,"w":30},{"h":48,"w":31},{"h":48,"w":32},{"h":48,"w":33},{"h":48,"w":34},{"h":48,"w":35},{"h":48,"w":36},{"h":48,"w":37},{"h":48,"w":38},{"h":48,"w":40},{"h":48,"w":41},{"h":48,"w":43.8},{"h":48,"w":45.5},{"h":48,"w":52.3},
      {"h":49,"w":8},{"h":49,"w":11.5},{"h":49,"w":12.5},{"h":49,"w":13.5},{"h":49,"w":14.5},{"h":49,"w":15.5},{"h":49,"w":16.5},{"h":49,"w":17.5},{"h":49,"w":18.5},{"h":49,"w":19.5},{"h":49,"w":20.5},{"h":49,"w":21.5},{"h":49,"w":22.5},{"h":49,"w":23.5},{"h":49,"w":24.5},{"h":49,"w":25.5},{"h":49,"w":26.5},{"h":49,"w":27.5},{"h":49,"w":28.5},{"h":49,"w":29.5},{"h":49,"w":30.5},{"h":49,"w":31.5},{"h":49,"w":32.5},{"h":49,"w":33.5},{"h":49,"w":34.5},{"h":49,"w":35.5},{"h":49,"w":36.5},{"h":49,"w":37.5},{"h":49,"w":39.5},{"h":49,"w":40.5},{"h":49,"w":43.5},{"h":49,"w":46.8},{"h":49,"w":51.1},
      {"h":50,"w":9.3},{"h":50,"w":11},{"h":50,"w":12},{"h":50,"w":13},{"h":50,"w":14},{"h":50,"w":15},{"h":50,"w":16},{"h":50,"w":17},{"h":50,"w":18},{"h":50,"w":19},{"h":50,"w":20},{"h":50,"w":21},{"h":50,"w":22},{"h":50,"w":23},{"h":50,"w":24},{"h":50,"w":25},{"h":50,"w":26},{"h":50,"w":27},{"h":50,"w":28},{"h":50,"w":30},{"h":50,"w":31},{"h":50,"w":32},{"h":50,"w":33},{"h":50,"w":34},{"h":50,"w":35},{"h":50,"w":36},{"h":50,"w":37},{"h":50,"w":39},{"h":50,"w":40},{"h":50,"w":43.3},{"h":50,"w":47.9},{"h":50,"w":49.6},
      {"h":51,"w":4},{"h":51,"w":5.2},{"h":51,"w":11.5},{"h":51,"w":12.5},{"h":51,"w":13.5},{"h":51,"w":14.5},{"h":51,"w":15.5},{"h":51,"w":16.5},{"h":51,"w":17.5},{"h":51,"w":18.5},{"h":51,"w":19.5},{"h":51,"w":20.5},{"h":51,"w":21.5},{"h":51,"w":22.5},{"h":51,"w":23.5},{"h":51,"w":24.5},{"h":51,"w":25.5},{"h":51,"w":26.5},{"h":51,"w":27.5},{"h":51,"w":28.5},{"h":51,"w":29.5},{"h":51,"w":30.5},{"h":51,"w":31.5},{"h":51,"w":32.5},{"h":51,"w":33.5},{"h":51,"w":34.5},{"h":51,"w":35.5},{"h":51,"w":36.5},{"h":51,"w":38.5},{"h":51,"w":39.5},{"h":51,"w":43.3},{"h":51,"w":56.1},{"h":51,"w":61.1},
      {"h":52,"w":11},{"h":52,"w":12},{"h":52,"w":13},{"h":52,"w":14},{"h":52,"w":15},{"h":52,"w":16},{"h":52,"w":17},{"h":52,"w":18},{"h":52,"w":19},{"h":52,"w":20},{"h":52,"w":22},{"h":52,"w":23},{"h":52,"w":24},{"h":52,"w":25},{"h":52,"w":26},{"h":52,"w":27},{"h":52,"w":28},{"h":52,"w":29},{"h":52,"w":30},{"h":52,"w":31},{"h":52,"w":32},{"h":52,"w":33},{"h":52,"w":34},{"h":52,"w":35},{"h":52,"w":36},{"h":52,"w":38},{"h":52,"w":39},{"h":52,"w":41.5},{"h":52,"w":44.5},{"h":52,"w":46.3},{"h":52,"w":52.8},{"h":52,"w":60.8},{"h":52,"w":66.6},
      {"h":53,"w":9.7},{"h":53,"w":11.5},{"h":53,"w":12.5},{"h":53,"w":13.5},{"h":53,"w":14.5},{"h":53,"w":15.5},{"h":53,"w":16.5},{"h":53,"w":17.5},{"h":53,"w":18.5},{"h":53,"w":19.5},{"h":53,"w":20.5},{"h":53,"w":21.5},{"h":53,"w":22.5},{"h":53,"w":23.5},{"h":53,"w":24.5},{"h":53,"w":25.5},{"h":53,"w":26.5},{"h":53,"w":27.5},{"h":53,"w":28.5},{"h":53,"w":29.5},{"h":53,"w":30.5},{"h":53,"w":31.5},{"h":53,"w":32.5},{"h":53,"w":33.5},{"h":53,"w":34.5},{"h":53,"w":35.5},{"h":53,"w":37.5},{"h":53,"w":38.5},{"h":53,"w":41},{"h":53,"w":54.8},
      {"h":54,"w":9.3},{"h":54,"w":11},{"h":54,"w":12},{"h":54,"w":13},{"h":54,"w":14},{"h":54,"w":15},{"h":54,"w":16},{"h":54,"w":17},{"h":54,"w":18},{"h":54,"w":19},{"h":54,"w":20},{"h":54,"w":21},{"h":54,"w":22},{"h":54,"w":23},{"h":54,"w":24},{"h":54,"w":25},{"h":54,"w":26},{"h":54,"w":28},{"h":54,"w":29},{"h":54,"w":30},{"h":54,"w":31},{"h":54,"w":32},{"h":54,"w":33},{"h":54,"w":34},{"h":54,"w":35},{"h":54,"w":37},{"h":54,"w":38},{"h":54,"w":40.5},{"h":54,"w":43.1},{"h":54,"w":47.9},
      {"h":55,"w":8.5},{"h":55,"w":11.5},{"h":55,"w":12.5},{"h":55,"w":13.5},{"h":55,"w":14.5},{"h":55,"w":15.5},{"h":55,"w":16.5},{"h":55,"w":17.5},{"h":55,"w":18.5},{"h":55,"w":19.5},{"h":55,"w":20.5},{"h":55,"w":21.5},{"h":55,"w":22.5},{"h":55,"w":23.5},{"h":55,"w":24.5},{"h":55,"w":25.5},{"h":55,"w":26.5},{"h":55,"w":27.5},{"h":55,"w":28.5},{"h":55,"w":29.5},{"h":55,"w":30.5},{"h":55,"w":31.5},{"h":55,"w":32.5},{"h":55,"w":33.5},{"h":55,"w":34.5},{"h":55,"w":36.5},{"h":55,"w":37.5},{"h":55,"w":40.3},{"h":55,"w":42.5},{"h":55,"w":43.7},{"h":55,"w":47.9},{"h":55,"w":59.3},
      {"h":56,"w":8.5},{"h":56,"w":11},{"h":56,"w":12},{"h":56,"w":13},{"h":56,"w":14},{"h":56,"w":15},{"h":56,"w":16},{"h":56,"w":17},{"h":56,"w":19},{"h":56,"w":20},{"h":56,"w":21},{"h":56,"w":22},{"h":56,"w":23},{"h":56,"w":24},{"h":56,"w":25},{"h":56,"w":26},{"h":56,"w":27},{"h":56,"w":28},{"h":56,"w":29},{"h":56,"w":30},{"h":56,"w":31},{"h":56,"w":32},{"h":56,"w":33},{"h":56,"w":34},{"h":56,"w":36},{"h":56,"w":37},{"h":56,"w":64},
      {"h":57,"w":11.5},{"h":57,"w":12.5},{"h":57,"w":13.5},{"h":57,"w":14.5},{"h":57,"w":15.5},{"h":57,"w":16.5},{"h":57,"w":17.5},{"h":57,"w":18.5},{"h":57,"w":19.5},{"h":57,"w":20.5},{"h":57,"w":21.5},{"h":57,"w":22.5},{"h":57,"w":23.5},{"h":57,"w":25.5},{"h":57,"w":26.5},{"h":57,"w":27.5},{"h":57,"w":28.5},{"h":57,"w":29.5},{"h":57,"w":30.5},{"h":57,"w":31.5},{"h":57,"w":32.5},{"h":57,"w":34.5},{"h":57,"w":35.5},{"h":57,"w":38},{"h":57,"w":43.1},{"h":57,"w":46},
      {"h":58,"w":9.3},{"h":58,"w":12},{"h":58,"w":13},{"h":58,"w":14},{"h":58,"w":15},{"h":58,"w":16},{"h":58,"w":17},{"h":58,"w":18},{"h":58,"w":19},{"h":58,"w":20},{"h":58,"w":21},{"h":58,"w":22},{"h":58,"w":23},{"h":58,"w":24},{"h":58,"w":25},{"h":58,"w":26},{"h":58,"w":27},{"h":58,"w":28},{"h":58,"w":30},{"h":58,"w":31},{"h":58,"w":32},{"h":58,"w":33},{"h":58,"w":35},{"h":58,"w":36},{"h":58,"w":38},{"h":58,"w":42.5},{"h":58,"w":50.3},{"h":58,"w":52.6},{"h":58,"w":53.7},
      {"h":59,"w":11.5},{"h":59,"w":12.5},{"h":59,"w":13.5},{"h":59,"w":14.5},{"h":59,"w":15.5},{"h":59,"w":16.5},{"h":59,"w":17.5},{"h":59,"w":18.5},{"h":59,"w":19.5},{"h":59,"w":21.5},{"h":59,"w":22.5},{"h":59,"w":23.5},{"h":59,"w":24.5},{"h":59,"w":25.5},{"h":59,"w":26.5},{"h":59,"w":27.5},{"h":59,"w":28.5},{"h":59,"w":29.5},{"h":59,"w":30.5},{"h":59,"w":31.5},{"h":59,"w":32.5},{"h":59,"w":34.5},{"h":59,"w":35.5},{"h":59,"w":41},{"h":59,"w":70.8},
      {"h":60,"w":9},{"h":60,"w":12},{"h":60,"w":13},{"h":60,"w":14},{"h":60,"w":15},{"h":60,"w":16},{"h":60,"w":17},{"h":60,"w":18},{"h":60,"w":19},{"h":60,"w":20},{"h":60,"w":21},{"h":60,"w":23},{"h":60,"w":24},{"h":60,"w":25},{"h":60,"w":26},{"h":60,"w":27},{"h":60,"w":28},{"h":60,"w":29},{"h":60,"w":30},{"h":60,"w":32},{"h":60,"w":33},{"h":60,"w":34},{"h":60,"w":36.5},{"h":60,"w":40.8},{"h":60,"w":53.9},
      {"h":61,"w":7.5},{"h":61,"w":11.5},{"h":61,"w":12.5},{"h":61,"w":13.5},{"h":61,"w":14.5},{"h":61,"w":15.5},{"h":61,"w":16.5},{"h":61,"w":17.5},{"h":61,"w":18.5},{"h":61,"w":19.5},{"h":61,"w":20.5},{"h":61,"w":21.5},{"h":61,"w":22.5},{"h":61,"w":23.5},{"h":61,"w":24.5},{"h":61,"w":26.5},{"h":61,"w":27.5},{"h":61,"w":28.5},{"h":61,"w":29.5},{"h":61,"w":30.5},{"h":61,"w":31.5},{"h":61,"w":32.5},{"h":61,"w":33.5},{"h":61,"w":35.5},{"h":61,"w":37.9},{"h":61,"w":40.8},{"h":61,"w":43.9},
      {"h":62,"w":11},{"h":62,"w":12},{"h":62,"w":13},{"h":62,"w":14},{"h":62,"w":15},{"h":62,"w":16},{"h":62,"w":17},{"h":62,"w":18},{"h":62,"w":19},{"h":62,"w":21},{"h":62,"w":22},{"h":62,"w":23},{"h":62,"w":24},{"h":62,"w":25},{"h":62,"w":26},{"h":62,"w":28},{"h":62,"w":29},{"h":62,"w":30},{"h":62,"w":31},{"h":62,"w":32},{"h":62,"w":33},{"h":62,"w":47},{"h":62,"w":49.1},{"h":62,"w":51.4},
      {"h":63,"w":11},{"h":63,"w":12.5},{"h":63,"w":13.5},{"h":63,"w":14.5},{"h":63,"w":15.5},{"h":63,"w":16.5},{"h":63,"w":17.5},{"h":63,"w":18.5},{"h":63,"w":20.5},{"h":63,"w":21.5},{"h":63,"w":22.5},{"h":63,"w":23.5},{"h":63,"w":24.5},{"h":63,"w":25.5},{"h":63,"w":26.5},{"h":63,"w":28.5},{"h":63,"w":29.5},{"h":63,"w":30.5},{"h":63,"w":31.5},{"h":63,"w":32.5},{"h":63,"w":36.5},{"h":63,"w":40.8},{"h":63,"w":43.4},{"h":63,"w":44.6},{"h":63,"w":50.3},
      {"h":64,"w":6.8},{"h":64,"w":12},{"h":64,"w":13},{"h":64,"w":14},{"h":64,"w":15},{"h":64,"w":16},{"h":64,"w":17},{"h":64,"w":18},{"h":64,"w":20},{"h":64,"w":21},{"h":64,"w":22},{"h":64,"w":23},{"h":64,"w":24},{"h":64,"w":25},{"h":64,"w":27},{"h":64,"w":28},{"h":64,"w":29},{"h":64,"w":30},{"h":64,"w":31},{"h":64,"w":32},{"h":64,"w":36.5},{"h":64,"w":38.2},{"h":64,"w":45.6},
      {"h":65,"w":12.5},{"h":65,"w":13.5},{"h":65,"w":14.5},{"h":65,"w":15.5},{"h":65,"w":16.5},{"h":65,"w":18.5},{"h":65,"w":19.5},{"h":65,"w":20.5},{"h":65,"w":21.5},{"h":65,"w":22.5},{"h":65,"w":23.5},{"h":65,"w":25.5},{"h":65,"w":26.5},{"h":65,"w":27.5},{"h":65,"w":28.5},{"h":65,"w":29.5},{"h":65,"w":30.5},{"h":65,"w":31.5},{"h":65,"w":35.9},{"h":65,"w":42},{"h":65,"w":43.2},{"h":65,"w":44.6},
      {"h":66,"w":7.2},{"h":66,"w":12},{"h":66,"w":13},{"h":66,"w":14},{"h":66,"w":15},{"h":66,"w":17},{"h":66,"w":18},{"h":66,"w":19},{"h":66,"w":20},{"h":66,"w":21},{"h":66,"w":23},{"h":66,"w":24},{"h":66,"w":25},{"h":66,"w":26},{"h":66,"w":27},{"h":66,"w":29},{"h":66,"w":30},{"h":66,"w":31},{"h":66,"w":35.9},{"h":66,"w":44.6},{"h":66,"w":45.8},{"h":66,"w":47.9},
      {"h":67,"w":8},{"h":67,"w":9.1},{"h":67,"w":10.3},{"h":67,"w":12.5},{"h":67,"w":13.5},{"h":67,"w":14.5},{"h":67,"w":15.5},{"h":67,"w":16.5},{"h":67,"w":17.5},{"h":67,"w":19.5},{"h":67,"w":20.5},{"h":67,"w":21.5},{"h":67,"w":22.5},{"h":67,"w":24.5},{"h":67,"w":25.5},{"h":67,"w":26.5},{"h":67,"w":28.5},{"h":67,"w":29.5},{"h":67,"w":30.5},
      {"h":68,"w":6.8},{"h":68,"w":13},{"h":68,"w":14},{"h":68,"w":15},{"h":68,"w":16},{"h":68,"w":18},{"h":68,"w":19},{"h":68,"w":20},{"h":68,"w":21},{"h":68,"w":23},{"h":68,"w":24},{"h":68,"w":25},{"h":68,"w":27},{"h":68,"w":28},{"h":68,"w":29},{"h":68,"w":30},{"h":68,"w":31.2},{"h":68,"w":36.5},{"h":68,"w":37.8},{"h":68,"w":39.1},{"h":68,"w":40.8},
      {"h":69,"w":13.5},{"h":69,"w":14.5},{"h":69,"w":15.5},{"h":69,"w":16.5},{"h":69,"w":18.5},{"h":69,"w":19.5},{"h":69,"w":20.5},{"h":69,"w":21.5},{"h":69,"w":23.5},{"h":69,"w":24.5},{"h":69,"w":25.5},{"h":69,"w":27.5},{"h":69,"w":28.5},{"h":69,"w":29.5},{"h":69,"w":33},{"h":69,"w":37.2},{"h":69,"w":50.7},
      {"h":70,"w":13},{"h":70,"w":14},{"h":70,"w":15},{"h":70,"w":16},{"h":70,"w":17},{"h":70,"w":19},{"h":70,"w":20},{"h":70,"w":21},{"h":70,"w":22},{"h":70,"w":23},{"h":70,"w":25},{"h":70,"w":26},{"h":70,"w":27},{"h":70,"w":28},{"h":70,"w":29},{"h":70,"w":34},{"h":70,"w":36.3},{"h":70,"w":41.4},
      {"h":71,"w":13.5},{"h":71,"w":14.5},{"h":71,"w":15.5},{"h":71,"w":16.5},{"h":71,"w":17.5},{"h":71,"w":18.5},{"h":71,"w":19.5},{"h":71,"w":21.5},{"h":71,"w":22.5},{"h":71,"w":23.5},{"h":71,"w":24.5},{"h":71,"w":26.5},{"h":71,"w":27.5},{"h":71,"w":28.5},{"h":71,"w":33.8},{"h":71,"w":47.9},
      {"h":72,"w":11.9},{"h":72,"w":14},{"h":72,"w":15},{"h":72,"w":16},{"h":72,"w":17},{"h":72,"w":19},{"h":72,"w":20},{"h":72,"w":21},{"h":72,"w":22},{"h":72,"w":24},{"h":72,"w":25},{"h":72,"w":26},{"h":72,"w":27},{"h":72,"w":28},{"h":72,"w":34.2},{"h":72,"w":35.5},{"h":72,"w":40.3},
      {"h":73,"w":9.7},{"h":73,"w":14},{"h":73,"w":15},{"h":73,"w":16},{"h":73,"w":17.1},{"h":73,"w":19},{"h":73,"w":20},{"h":73,"w":21},{"h":73,"w":22},{"h":73,"w":23},{"h":73,"w":24},{"h":73,"w":25},{"h":73,"w":26},{"h":73,"w":27.7},{"h":73,"w":29.5},{"h":73,"w":37.4},
      {"h":74,"w":13.2},{"h":74,"w":14.5},{"h":74,"w":16.5},{"h":74,"w":17.5},{"h":74,"w":19},{"h":74,"w":20},{"h":74,"w":21},{"h":74,"w":22.3},{"h":74,"w":23.7},{"h":74,"w":25},{"h":74,"w":26.2},{"h":74,"w":28},{"h":74,"w":29.5},{"h":74,"w":31.2},{"h":74,"w":40.6},{"h":74,"w":48.6},
      {"h":75,"w":13.7},{"h":75,"w":15.5},{"h":75,"w":17},{"h":75,"w":18.2},{"h":75,"w":19.4},{"h":75,"w":20.7},{"h":75,"w":22.2},{"h":75,"w":23.7},{"h":75,"w":24.8},{"h":75,"w":26},{"h":75,"w":27.3},{"h":75,"w":29},{"h":75,"w":38.4},
      {"h":76,"w":13.2},{"h":76,"w":14.3},{"h":76,"w":16},{"h":76,"w":17.2},{"h":76,"w":18.3},{"h":76,"w":19.4},{"h":76,"w":20.9},{"h":76,"w":22.3},{"h":76,"w":23.2},{"h":76,"w":24.3},{"h":76,"w":25.4},{"h":76,"w":26.6},{"h":76,"w":28.5},{"h":76,"w":30},{"h":76,"w":33.6},{"h":76,"w":34.2},{"h":76,"w":37.6},{"h":76,"w":39.9},{"h":76,"w":63.4},
      {"h":77,"w":10.3},{"h":77,"w":14},{"h":77,"w":16.9},{"h":77,"w":19},{"h":77,"w":20.5},{"h":77,"w":22},{"h":77,"w":24.5},{"h":77,"w":25.5},{"h":77,"w":26.8},{"h":77,"w":27.7},{"h":77,"w":28.8},
      {"h":78,"w":9.7},{"h":78,"w":10.8},{"h":78,"w":13.2},{"h":78,"w":15.2},{"h":78,"w":16.3},{"h":78,"w":18.9},{"h":78,"w":20.3},{"h":78,"w":21.2},{"h":78,"w":22},{"h":78,"w":24.2},{"h":78,"w":26.6},
      {"h":79,"w":15.5},{"h":79,"w":16.5},{"h":79,"w":17.4},{"h":79,"w":18.4},{"h":79,"w":23.5},{"h":79,"w":24.5},{"h":79,"w":27.5},{"h":79,"w":30.9},{"h":79,"w":33.4},
      {"h":80,"w":19.5},{"h":80,"w":20.3},{"h":80,"w":22.6},{"h":80,"w":25.1},{"h":80,"w":29.4},{"h":80,"w":33.1},{"h":80,"w":47.9},
      {"h":81,"w":8.1},{"h":81,"w":9.5},{"h":81,"w":10.6},{"h":81,"w":12.1},{"h":81,"w":13.5},{"h":81,"w":14.9},{"h":81,"w":15.7},{"h":81,"w":22.6},{"h":81,"w":24.8},{"h":81,"w":26},{"h":81,"w":29.4},{"h":81,"w":33},{"h":81,"w":35.9},
      {"h":82,"w":11.9},{"h":82,"w":22.6},{"h":82,"w":39.1},{"h":82,"w":46.3},
      {"h":83,"w":12.1},{"h":83,"w":14},{"h":83,"w":16.5},{"h":83,"w":18.4},{"h":83,"w":22.6},{"h":83,"w":24},{"h":83,"w":31.2},{"h":83,"w":38.4},
      {"h":84,"w":12.9},{"h":84,"w":15.7},{"h":84,"w":21.7},{"h":84,"w":22.6},{"h":84,"w":25.8},{"h":84,"w":27.4},{"h":84,"w":34.5},{"h":84,"w":36.6},
      {"h":85,"w":22.6},{"h":85,"w":23.7},{"h":85,"w":31.6},{"h":85,"w":38.4},{"h":85,"w":58.6},{"h":85,"w":66.1},
      {"h":86,"w":25.8},{"h":86,"w":27.4},
      {"h":87,"w":12.9},{"h":87,"w":20.1},{"h":87,"w":20.9},{"h":87,"w":25.1},{"h":87,"w":58.6},
      {"h":88,"w":16.1},{"h":88,"w":26.9},
      {"h":89,"w":20.9},{"h":89,"w":25.5},{"h":89,"w":28.1},{"h":89,"w":29.2},{"h":89,"w":33.5},{"h":89,"w":38.1},{"h":89,"w":39.9},{"h":89,"w":69.4},
      {"h":90,"w":15.7},{"h":90,"w":19.4},{"h":90,"w":24.7},{"h":90,"w":28.7},{"h":90,"w":40.6},
      {"h":91,"w":12.5},{"h":91,"w":28.7},{"h":91,"w":37.1},
      {"h":92,"w":16.5},{"h":92,"w":18},{"h":92,"w":18.9},{"h":92,"w":19.9},{"h":92,"w":20.9},{"h":92,"w":29.4},{"h":92,"w":31.9},
      {"h":93,"w":29.4},
      {"h":94,"w":21.5},{"h":94,"w":32.7},
      {"h":95,"w":18},
      {"h":96,"w":52.1},{"h":96,"w":62.9},{"h":96,"w":70.1},
      {"h":97,"w":27.4},{"h":97,"w":49.3},{"h":97,"w":58.6},
      {"h":98,"w":15.7},{"h":98,"w":57.9},
      {"h":99,"w":17.6}
    ],
    "viernes": [
      {"h":18,"w":65.8},{"h":18,"w":64.3},{"h":21,"w":64.1},{"h":25,"w":64.1},{"h":29,"w":58},
      {"h":18,"w":57.5},{"h":19,"w":56.3},{"h":18,"w":52.5},{"h":36,"w":48.2},{"h":18,"w":44.5}
    ]
  },
  "layer": [
    {
      "data": {"values": [{}]},
      "mark": {"type": "rect", "color": "#000000", "opacity": 0.055},
      "encoding": {
        "x": {"datum": 0, "type": "quantitative", "scale": {"domain": [0, 100], "nice": false}},
        "x2": {"datum": 20},
        "y": {"datum": 35, "type": "quantitative", "scale": {"domain": [0, 75], "nice": false}},
        "y2": {"datum": 70}
      }
    },
    {
      "data": {"name": "historico"},
      "mark": {"type": "circle", "color": "#c4c7cb", "opacity": 1, "size": 110},
      "encoding": {
        "x": {
          "field": "h", "type": "quantitative",
          "axis": {
            "values": [0, 20, 40, 60, 80, 100],
            "labelExpr": "datum.value == 100 ? '100%' : datum.label",
            "title": null
          }
        },
        "y": {
          "field": "w", "type": "quantitative",
          "axis": {
            "values": [0, 10, 20, 30, 40, 50, 60, 70],
            "title": null
          }
        }
      }
    },
    {
      "data": {"values": [{}]},
      "mark": {"type": "rule", "color": "#707070", "strokeWidth": 3, "strokeDash": [3.5, 4]},
      "encoding": {
        "x": {"datum": 20, "type": "quantitative"},
        "y": {"datum": 0, "type": "quantitative"},
        "y2": {"datum": 75}
      }
    },
    {
      "data": {"values": [{}]},
      "mark": {"type": "rule", "color": "#666666", "strokeWidth": 1.5, "strokeDash": [1.5, 2]},
      "encoding": {
        "x": {"datum": 0, "type": "quantitative"},
        "x2": {"datum": 100},
        "y": {"datum": 35, "type": "quantitative"}
      }
    },
    {
      "data": {"name": "viernes"},
      "mark": {"type": "circle", "color": "#d5482d", "opacity": 1, "size": 256},
      "encoding": {
        "x": {"field": "h", "type": "quantitative", "axis": {"title": null}},
        "y": {"field": "w", "type": "quantitative", "axis": {"title": null}}
      }
    },
    {
      "data": {"values": [{}]},
      "mark": {"type": "text", "text": "rachas km/h", "align": "left", "baseline": "middle", "font": "DejaVu Sans", "fontWeight": "bold", "fontSize": 24, "color": "#727272"},
      "encoding": {
        "x": {"datum": 1, "type": "quantitative"},
        "y": {"datum": 72.75, "type": "quantitative"}
      }
    },
    {
      "data": {"values": [{}]},
      "mark": {"type": "text", "text": "humedad", "align": "right", "baseline": "middle", "font": "DejaVu Sans", "fontWeight": "bold", "fontSize": 24, "color": "#727272"},
      "encoding": {
        "x": {"datum": 100, "type": "quantitative"},
        "y": {"datum": 3.2, "type": "quantitative"}
      }
    },
    {
      "data": {"values": [{}]},
      "mark": {"type": "text", "text": ["Tarde del viernes", "24 de julio 2026"], "align": "left", "baseline": "middle", "lineHeight": 31, "font": "DejaVu Sans", "fontWeight": "bold", "fontSize": 22, "color": "#e3004f"},
      "encoding": {
        "x": {"datum": 29.2, "type": "quantitative"},
        "y": {"datum": 68.64, "type": "quantitative"}
      }
    },
    {
      "data": {"values": [{}]},
      "mark": {"type": "text", "text": "Open-Meteo / EL PAÍS", "align": "right", "baseline": "middle", "font": "DejaVu Sans", "fontSize": 23, "color": "#9b9b9b"},
      "encoding": {
        "x": {"datum": 103.5, "type": "quantitative"},
        "y": {"datum": -10.3, "type": "quantitative"}
      }
    }
  ]
}
